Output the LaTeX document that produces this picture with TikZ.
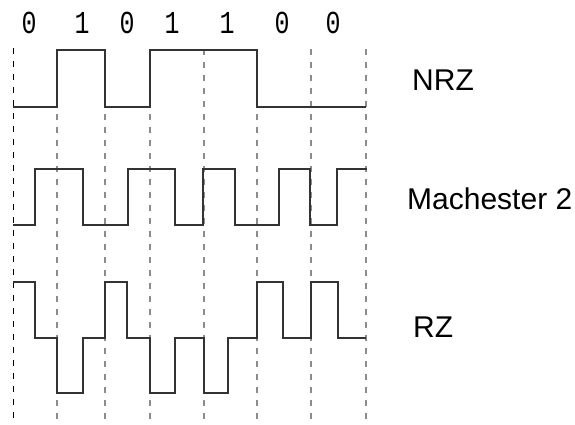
\documentclass[tikz,border=0pt]{standalone}
\usepackage{fontspec}
\setmainfont{Liberation Sans}
\newfontfamily\fontebit{Liberation Mono}
\usepackage{tikz}
\usetikzlibrary{positioning}
\tikzset{
    grade/.style={draw=black!45, line width=1.7pt, dash pattern=on 6pt off 7pt},
    gradeInicio/.style={draw=black, line width=1pt, dash pattern=on 6pt off 7pt},
    sinal/.style={draw=black!80, line width=1.6pt},
    rotulo/.style={font=\fontsize{30}{32}\selectfont, anchor=west, inner sep=0pt},
    bit/.style={font=\fontebit\fontsize{32}{34}\selectfont, inner sep=0pt}
}

\begin{document}
\begin{tikzpicture}[x=1pt, y=-1pt]
        \useasboundingbox (0,0) rectangle (575,424);

        % linhas de tempo
        \draw[gradeInicio] (13,48) -- (13,424);
        \foreach \x in {57,105,150,204,257,311,366}
            \draw[grade] (\x,49) -- (\x,424);

        % sequencia de bits
        \foreach \x/\b [count=\i] in {29/0,82/1,127/0,172/1,227/1,282/0,333/0}
            \node[bit] (bit\i) at (\x,22.5) {\scalebox{0.78}[1]{\b}};

        % NRZ
        \draw[sinal] (13,107) -| (57,50) -| (105,107) -| (150,50) -| (257,107) -- (366,107);
        % Manchester
        \draw[sinal] (13,225) -| (35,169) -| (83,225) -| (128,169) -| (175,225) -| (203,169)
            -| (235,225) -| (279,169) -| (310,225) -| (337,169) -- (367,169);
        % RZ
        \draw[sinal] (13,282) -| (35,338) -| (57,393) -| (83,338) -| (105,282) -| (127,338)
            -| (150,393) -| (175,338) -| (204,393) -| (228,338) -| (257,282) -| (283,338)
            -| (311,282) -| (338,338) -- (366,338);

        \node[rotulo] (nrz) at (412,80) {NRZ};
        \node[rotulo] (manchester) at (407,199) {Machester 2};
        \node[rotulo] (rz) at (413,327.5) {RZ};
    \end{tikzpicture}
\end{document}
